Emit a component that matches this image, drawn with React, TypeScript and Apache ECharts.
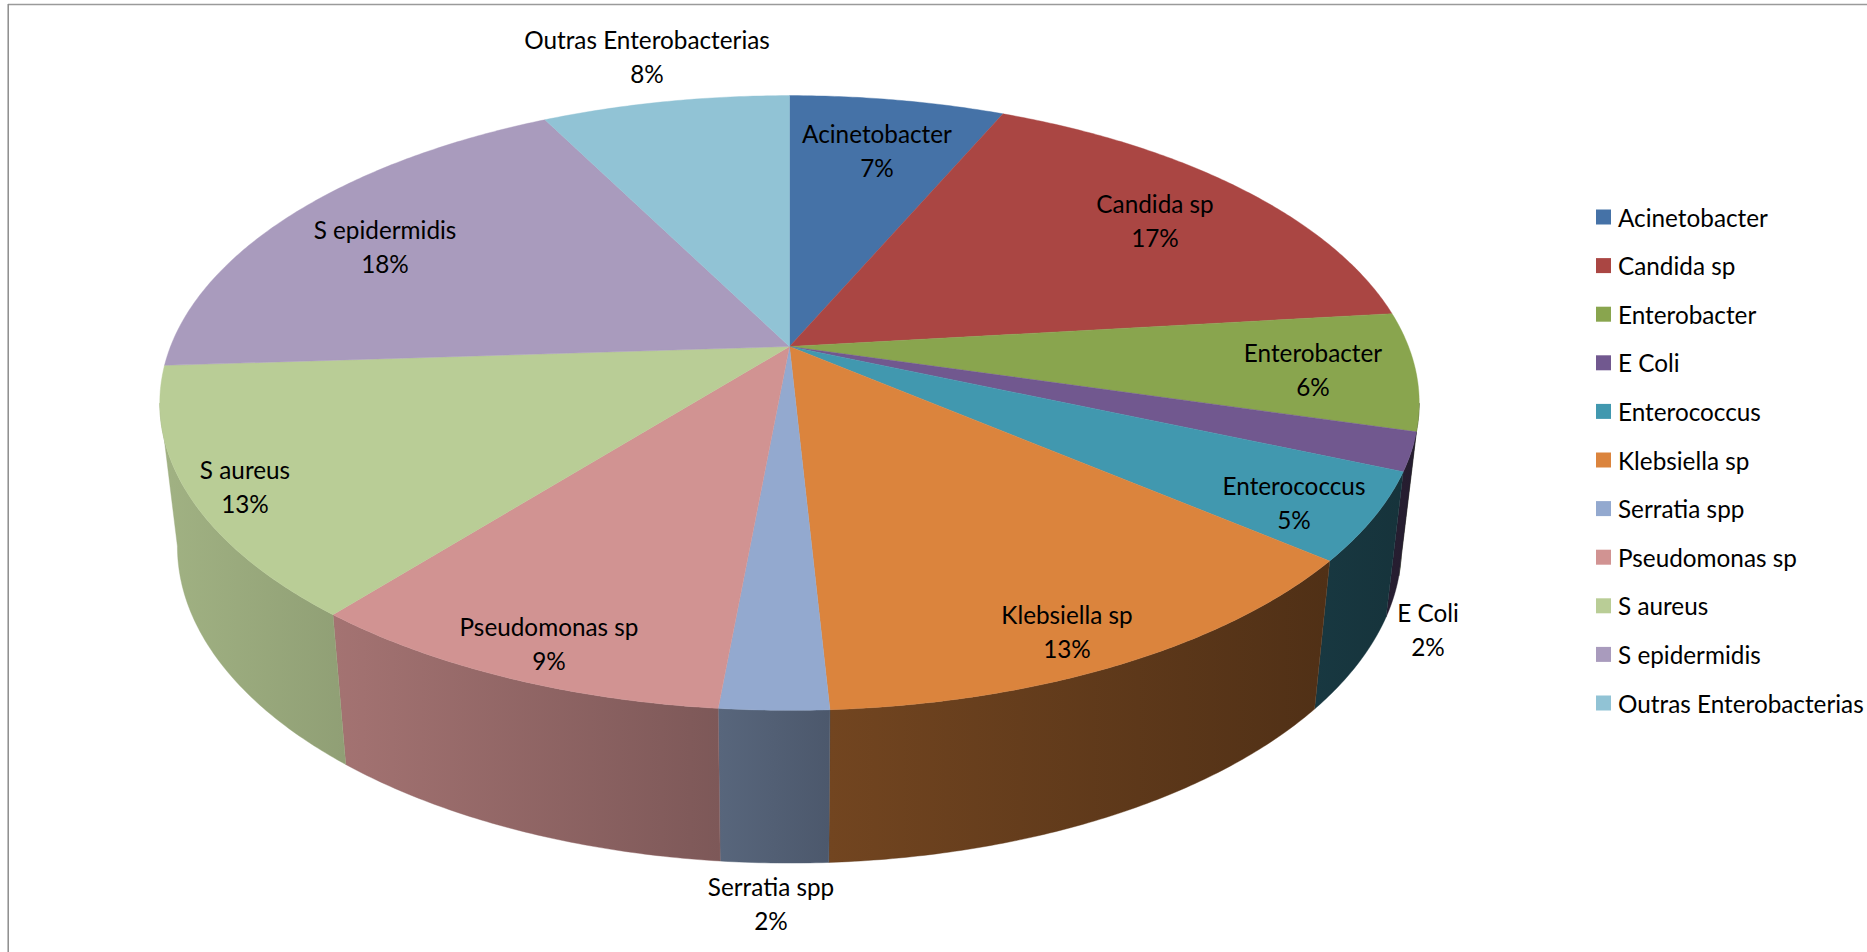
import React, { useEffect, useRef } from "react";
import * as echarts from "echarts";

// ---- data ----
const categories = [
  "Acinetobacter", "Candida sp", "Enterobacter", "E Coli", "Enterococcus", "Klebsiella sp",
  "Serratia spp", "Pseudomonas sp", "S aureus", "S epidermidis", "Outras Enterobacterias",
];
const shares = [6.6, 16.6, 6.2, 2.0, 4.6, 13.15, 2.35, 9.4, 13.1, 18.4, 7.6];

// ---- styles and layout ----
const colors = [
  "#4572A7", "#AA4643", "#89A54E", "#71588F", "#4198AF", "#DB843D",
  "#93A9CF", "#D19392", "#B9CD96", "#A99BBD", "#91C3D5",
];
const labelCenters: [number, number][] = [
  [877, 150], [1155, 220], [1313, 369], [1428, 629], [1294, 502], [1067, 631],
  [771, 903], [549, 643], [245, 486], [385, 246], [647, 56],
];
const shadeStops: [number, number][] = [
  [180, 0.87], [340, 0.78], [720, 0.6], [830, 0.52], [1320, 0.37], [1420, 0.33],
];
const FONT = "Lato, Carlito, sans-serif";
const FONT_SIZE = 24.3;
const CX = 789.5;
const CY = 346.5;
const A = 619;
const B = 297;
const P = 0.1837;
const BOTTOM_SX = 0.972;
const BOTTOM_SY = 1.031;
const BOTTOM_CY = 488;
// the silhouette's tangent points of the perspective disc
const TANGENT = (Math.asin(P) * 180) / Math.PI;

const total = shares.reduce((a, b) => a + b, 0);
const cumulative = shares.map((_, i) => shares.slice(0, i).reduce((a, b) => a + b, 0));
const toDeg = (v: number) => (v / total) * 360;

function topPoint(deg: number, r = 1): [number, number] {
  const t = (deg * Math.PI) / 180;
  const u = r * Math.sin(t);
  const v = r * Math.cos(t);
  const d = 1 + P * v;
  return [CX + (A * u) / d, CY - (B * v) / d];
}
function bottomPoint(deg: number): [number, number] {
  const [x, y] = topPoint(deg);
  return [CX + (x - CX) * BOTTOM_SX, BOTTOM_CY + (y - CY) * BOTTOM_SY];
}
function arcDegrees(a: number, b: number): number[] {
  const out: number[] = [];
  const n = Math.max(2, Math.ceil((b - a) * 2));
  for (let i = 0; i <= n; i++) out.push(a + ((b - a) * i) / n);
  return out;
}
function wallShade(x: number): number {
  if (x <= shadeStops[0][0]) return shadeStops[0][1];
  for (let i = 1; i < shadeStops.length; i++) {
    const [x0, f0] = shadeStops[i - 1];
    const [x1, f1] = shadeStops[i];
    if (x <= x1) return f0 + ((f1 - f0) * (x - x0)) / (x1 - x0);
  }
  return shadeStops[shadeStops.length - 1][1];
}
function shade(hex: string, f: number): string {
  const n = parseInt(hex.slice(1), 16);
  const c = [(n >> 16) & 255, (n >> 8) & 255, n & 255].map((k) => Math.round(k * f));
  return `rgb(${c[0]},${c[1]},${c[2]})`;
}

function renderWall(params: any, api: any) {
  const i = params.dataIndex;
  const start = toDeg(cumulative[i]);
  const end = start + toDeg(api.value(0));
  const a = Math.max(start, 90 + TANGENT);
  const b = Math.min(end, 270 - TANGENT);
  if (b <= a) return { type: "group", children: [] };
  const degs = arcDegrees(a, b);
  const upper = degs.map((d) => topPoint(d));
  const lower = degs.map((d) => bottomPoint(d)).reverse();
  const points = upper.concat(lower);
  const xs = points.map((p) => p[0]);
  const x0 = Math.min(...xs);
  const x1 = Math.max(...xs);
  const gradient = new echarts.graphic.LinearGradient(0, 0, 1, 0, [
    { offset: 0, color: shade(colors[i], wallShade(x0)) },
    { offset: 1, color: shade(colors[i], wallShade(x1)) },
  ]);
  return {
    type: "polygon",
    shape: { points },
    style: { fill: gradient, stroke: shade(colors[i], wallShade((x0 + x1) / 2)), lineWidth: 0.4 },
  };
}

function makeTopRenderer(i: number) {
  return (_params: any, api: any) => {
    const start = toDeg(cumulative[i]);
    const end = start + toDeg(api.value(0));
    const points = [[CX, CY] as [number, number]].concat(arcDegrees(start, end).map((d) => topPoint(d)));
    const pct = Math.round((api.value(0) / total) * 100);
    return {
      type: "group",
      children: [
        {
          type: "polygon",
          shape: { points },
          style: { fill: colors[i], stroke: colors[i], lineWidth: 0.4 },
        },
        {
          type: "text",
          z2: 20,
          style: {
            text: `${categories[i]}\n${pct}%`,
            x: labelCenters[i][0],
            y: labelCenters[i][1],
            align: "center",
            verticalAlign: "middle",
            fill: "#000",
            font: `${FONT_SIZE}px ${FONT}`,
            lineHeight: 34,
          },
        },
      ],
    };
  };
}

export default function App() {
  const ref = useRef<HTMLDivElement | null>(null);
  useEffect(() => {
    const chart = echarts.init(ref.current!, undefined, { renderer: "svg" });
    chart.setOption({
      animation: false,
      backgroundColor: "#fff",
      legend: {
        data: categories,
        orient: "vertical",
        left: 1596,
        top: 205,
        icon: "rect",
        itemWidth: 15,
        itemHeight: 15,
        itemGap: 24.6,
        selectedMode: false,
        padding: 0,
        textStyle: { fontFamily: FONT, fontSize: FONT_SIZE, color: "#000", lineHeight: 24, padding: [0, 0, 0, 2] },
      },
      graphic: [
        { type: "line", shape: { x1: 8, y1: 4.5, x2: 1867, y2: 4.5 }, style: { stroke: "#9a9a9a", lineWidth: 1.5 } },
        { type: "line", shape: { x1: 8.2, y1: 4, x2: 8.2, y2: 952 }, style: { stroke: "#8c8c8c", lineWidth: 1.5 } },
      ],
      series: [
        {
          type: "custom",
          name: "walls",
          coordinateSystem: "none",
          z: 1,
          silent: true,
          renderItem: renderWall,
          data: shares.map((v) => [v]),
        },
        ...categories.map((name, i) => ({
          type: "custom",
          name,
          coordinateSystem: "none",
          z: 2,
          silent: true,
          itemStyle: { color: colors[i] },
          renderItem: makeTopRenderer(i),
          data: [[shares[i]]],
        })),
      ],
    });
    return () => chart.dispose();
  }, []);
  return <div ref={ref} style={{ position: "fixed", left: 0, top: 0, width: 1867, height: 952 }} />;
}
